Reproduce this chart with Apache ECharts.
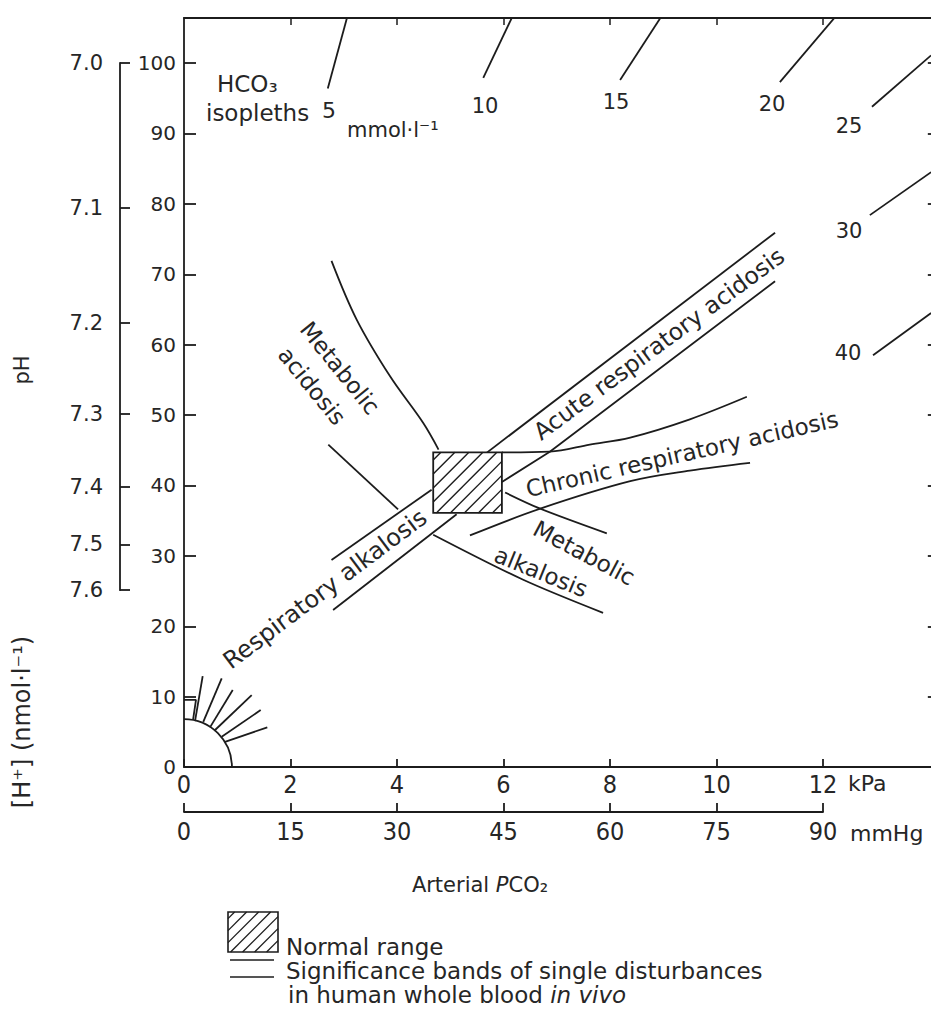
<!DOCTYPE html>
<html>
<head>
<meta charset="utf-8">
<title>Acid-base diagram</title>
<script src="https://cdn.jsdelivr.net/npm/echarts@6/dist/echarts.min.js"></script>
<style>
html,body{margin:0;padding:0;background:#ffffff;}
#chart{width:931px;height:1021px;}
</style>
</head>
<body>
<div id="chart"></div>
<script>
// ================= DATA =================
// axis tick values
const kPaTicks    = [0, 2, 4, 6, 8, 10, 12];
const kPaTopTicks = [2, 4, 6, 8, 10, 12];
const mmHgTicks   = [0, 15, 30, 45, 60, 75, 90];
const hTicks      = [0, 10, 20, 30, 40, 50, 60, 70, 80, 90, 100];
const hRightTicks = [10, 20, 30, 40, 50, 60, 70, 80, 90, 100];
const phTicks     = [7.0, 7.1, 7.2, 7.3, 7.4, 7.5, 7.6];

// HCO3 isopleth segments, [PCO2 kPa, H+ nmol/l]
const hco3Labels = ['5', '10', '15', '20', '25', '30', '40'];
const iso5  = [[2.70, 96.4], [3.06, 106.4]];
const iso10 = [[5.62, 97.9], [6.18, 106.8]];
const iso15 = [[8.19, 97.6], [8.98, 106.8]];
const iso20 = [[11.19, 97.3], [12.28, 107.0]];
const iso25 = [[12.92, 93.8], [14.03, 101.1]];
const iso30 = [[12.88, 78.4], [14.03, 84.5]];
const iso40 = [[12.94, 58.5], [14.03, 64.5]];

// significance band boundaries
const metAcidUpper  = [[2.77, 71.9], [3.24, 63.6], [3.87, 55.5], [4.49, 48.9], [4.78, 45.1]];
const metAlkUpper   = [[6.03, 39.0], [6.69, 36.7], [7.94, 33.2]];
const metAcidLower  = [[2.71, 45.8], [4.02, 36.6]];
const metAlkLower   = [[4.68, 33.0], [6.37, 26.6], [7.87, 21.9]];
const acuteUpper    = [[5.59, 44.1], [11.10, 75.9]];
const acuteLower    = [[5.97, 40.5], [6.87, 44.8], [11.10, 69.0]];
const chronicUpper  = [[5.97, 44.7], [6.87, 44.8], [7.62, 45.8], [8.38, 46.8], [9.50, 49.4], [10.57, 52.6]];
const chronicLower  = [[5.37, 32.9], [6.69, 36.7], [8.38, 40.6], [9.50, 42.1], [10.63, 43.2]];
const respAlkUpper  = [[4.65, 39.4], [2.77, 29.4]];
const respAlkLower  = [[5.12, 35.9], [2.80, 22.3]];

// normal range box [P0, H0, P1, H1]
const normalRange = [4.68, 36.1, 5.97, 44.7];

// small figure at the origin
const originArcRadius = [0, 0, 0.9];              // centre P, centre H, radius (kPa)
const originBox = [[0, 9.53], [0.225, 9.53], [0.17, 6.69]];
const fan1 = [[0.207, 6.53], [0.351, 12.93]];
const fan2 = [[0.362, 6.43], [0.708, 12.60]];
const fan3 = [[0.488, 5.64], [0.915, 10.94]];
const fan4 = [[0.569, 5.16], [1.271, 10.23]];
const fan5 = [[0.708, 4.30], [1.440, 8.10]];
const fan6 = [[0.770, 3.59], [1.564, 5.64]];

// ================= STYLE / LAYOUT =================
const INK = '#1c1c1c';
const TEXT_INK = '#262626';
const LW = 1.8;
const FONT = "'DejaVu Sans', 'Liberation Sans', sans-serif";
const NUMFONT = "'Liberation Sans Narrow', 'DejaVu Sans Condensed', 'Liberation Sans', sans-serif";
const X_MAX = 14.1, Y_MAX = 106.4;
const PX_PER_KPA = 53.25, PX_PER_H = 7.04;

function phToH(ph) { return Math.pow(10, 9 - ph); }
const phTickH = phTicks.map(phToH);

function lineSeries(name, data, smooth) {
  return {
    name: name, type: 'line', xAxisIndex: 0, yAxisIndex: 0, data: data,
    symbol: 'none', showSymbol: false, smooth: smooth || false,
    lineStyle: { color: INK, width: LW }, silent: true, z: 3, clip: true
  };
}

function hatchLines(children, L, T, R, B, step, lw) {
  for (let k = L + T + step * 0.55; k < R + B; k += step) {
    const xa = Math.max(L, k - B), xb = Math.min(R, k - T);
    if (xb - xa < 1) continue;
    children.push({ type: 'line', shape: { x1: xa, y1: k - xa, x2: xb, y2: k - xb },
      style: { stroke: INK, lineWidth: lw } });
  }
}

const series = [
  lineSeries('Metabolic acidosis upper', metAcidUpper, 0.35),
  lineSeries('Metabolic alkalosis upper', metAlkUpper, 0.3),
  lineSeries('Metabolic acidosis lower', metAcidLower),
  lineSeries('Metabolic alkalosis lower', metAlkLower, 0.3),
  lineSeries('Acute upper', acuteUpper),
  lineSeries('Acute lower', acuteLower),
  lineSeries('Chronic upper', chronicUpper, 0.35),
  lineSeries('Chronic lower', chronicLower, 0.35),
  lineSeries('Resp alkalosis upper', respAlkUpper),
  lineSeries('Resp alkalosis lower', respAlkLower),
  lineSeries('HCO3 ' + hco3Labels[0], iso5),
  lineSeries('HCO3 ' + hco3Labels[1], iso10),
  lineSeries('HCO3 ' + hco3Labels[2], iso15),
  lineSeries('HCO3 ' + hco3Labels[3], iso20),
  lineSeries('HCO3 ' + hco3Labels[4], iso25),
  lineSeries('HCO3 ' + hco3Labels[5], iso30),
  lineSeries('HCO3 ' + hco3Labels[6], iso40),
  lineSeries('origin box', originBox),
  lineSeries('fan1', fan1), lineSeries('fan2', fan2), lineSeries('fan3', fan3),
  lineSeries('fan4', fan4), lineSeries('fan5', fan5), lineSeries('fan6', fan6),
  {
    name: 'origin arc', type: 'custom', xAxisIndex: 0, yAxisIndex: 0, silent: true,
    data: [originArcRadius],
    renderItem: function (params, api) {
      const c = api.coord([api.value(0), api.value(1)]);
      const e = api.coord([api.value(0) + api.value(2), api.value(1)]);
      const r = e[0] - c[0];
      return { type: 'arc', shape: { cx: c[0], cy: c[1], r: r, startAngle: -Math.PI / 2, endAngle: 0, clockwise: true },
        style: { stroke: INK, fill: null, lineWidth: LW } };
    }
  },
  {
    name: 'Normal range', type: 'custom', xAxisIndex: 0, yAxisIndex: 0, silent: true, z: 4,
    data: [normalRange],
    renderItem: function (params, api) {
      const a = api.coord([api.value(0), api.value(3)]);
      const b = api.coord([api.value(2), api.value(1)]);
      const L = a[0], T = a[1], R = b[0], B = b[1];
      const children = [{ type: 'rect', shape: { x: L, y: T, width: R - L, height: B - T },
        style: { fill: '#ffffff', stroke: INK, lineWidth: LW } }];
      hatchLines(children, L, T, R, B, 14, 1.4);
      return { type: 'group', children: children };
    }
  }
];

function txt(text, x, y, o) {
  o = o || {};
  return {
    type: 'text', x: x, y: y, rotation: (o.rot || 0) * Math.PI / 180, silent: true, z: 10,
    style: {
      text: text, fill: TEXT_INK, fontFamily: o.family || FONT, fontSize: o.size || 23,
      align: o.align || 'center', verticalAlign: 'middle', rich: o.rich
    }
  };
}

// legend hatched box
const legendBox = { L: 228, T: 912, R: 278, B: 952 };
const legendChildren = [{ type: 'rect', shape: { x: legendBox.L, y: legendBox.T, width: legendBox.R - legendBox.L, height: legendBox.B - legendBox.T },
  style: { fill: '#fff', stroke: INK, lineWidth: 1.6 } }];
hatchLines(legendChildren, legendBox.L, legendBox.T, legendBox.R, legendBox.B, 12, 1.3);

const graphics = [
  txt('pH', 22, 370, { rot: 90, size: 21 }),
  txt('[H⁺] (nmol·l⁻¹)', 22, 722, { rot: 90, size: 24 }),
  txt('HCO₃', 217, 84, { align: 'left', size: 23 }),
  txt('isopleths', 206, 113, { align: 'left', size: 23 }),
  txt(hco3Labels[0], 329, 110, { size: 22 }),
  txt('mmol·l⁻¹', 347, 130, { align: 'left', size: 21 }),
  txt(hco3Labels[1], 485, 106, { size: 21 }),
  txt(hco3Labels[2], 616, 102, { size: 21 }),
  txt(hco3Labels[3], 772, 104, { size: 21 }),
  txt(hco3Labels[4], 849, 126, { size: 21 }),
  txt(hco3Labels[5], 849, 231, { size: 21 }),
  txt(hco3Labels[6], 848, 353, { size: 21 }),
  txt('Metabolic', 340, 368, { rot: -51, size: 23 }),
  txt('acidosis', 312, 386, { rot: -51, size: 23 }),
  txt('Acute respiratory acidosis', 659, 344, { rot: 36.5, size: 23.5 }),
  txt('Chronic respiratory acidosis', 682, 454, { rot: 12.8, size: 23 }),
  txt('Metabolic', 584, 553, { rot: -28, size: 23 }),
  txt('alkalosis', 541, 572, { rot: -22, size: 23 }),
  txt('Respiratory alkalosis', 325, 589, { rot: 37, size: 24 }),
  txt('kPa', 848, 783, { align: 'left', size: 22 }),
  txt('mmHg', 850, 833, { align: 'left', size: 22 }),
  txt('{a|Arterial }{b|P}{a|CO₂}', 480, 885, { size: 21, rich: {
    a: { fontFamily: FONT, fontSize: 21, fill: TEXT_INK },
    b: { fontFamily: FONT, fontSize: 21, fontStyle: 'italic', fill: TEXT_INK } } }),
  { type: 'group', silent: true, children: legendChildren },
  { type: 'line', silent: true, shape: { x1: 230, y1: 960, x2: 274, y2: 960 }, style: { stroke: INK, lineWidth: 1.6 } },
  { type: 'line', silent: true, shape: { x1: 230, y1: 977, x2: 274, y2: 977 }, style: { stroke: INK, lineWidth: 1.6 } },
  txt('Normal range', 286, 947, { align: 'left', size: 23 }),
  txt('Significance bands of single disturbances', 286, 971, { align: 'left', size: 23 }),
  txt('{a|in human whole blood }{b|in vivo}', 288, 995, { align: 'left', size: 23, rich: {
    a: { fontFamily: FONT, fontSize: 23, fill: TEXT_INK },
    b: { fontFamily: FONT, fontSize: 23, fontStyle: 'italic', fill: TEXT_INK } } })
];

const axisLine = { show: true, onZero: false, lineStyle: { color: INK, width: LW } };

const option = {
  backgroundColor: '#ffffff',
  animation: false,
  grid: [
    { left: 184, top: 18, width: X_MAX * PX_PER_KPA, height: Y_MAX * PX_PER_H, containLabel: false, outerBoundsMode: 'none' },
    { left: 184, top: 802, width: 12 * PX_PER_KPA, height: 10, containLabel: false, outerBoundsMode: 'none' },
    { left: 120, top: 767 - 100 * PX_PER_H, width: 10, height: (100 - phTickH[6]) * PX_PER_H, containLabel: false, outerBoundsMode: 'none' }
  ],
  xAxis: [
    { gridIndex: 0, type: 'value', position: 'bottom', min: 0, max: X_MAX, interval: 2,
      axisLine: axisLine,
      axisTick: { show: true, inside: true, length: 8, customValues: kPaTicks, lineStyle: { color: INK, width: LW } },
      axisLabel: { show: true, customValues: kPaTicks, margin: 5, color: TEXT_INK, fontFamily: NUMFONT, fontSize: 25 },
      splitLine: { show: false } },
    { gridIndex: 0, type: 'value', position: 'top', min: 0, max: X_MAX, interval: 2,
      axisLine: axisLine,
      axisTick: { show: true, inside: true, length: 7, customValues: kPaTopTicks, lineStyle: { color: INK, width: 1.5 } },
      axisLabel: { show: false }, splitLine: { show: false } },
    { gridIndex: 1, type: 'value', position: 'bottom', min: 0, max: 90, interval: 15,
      axisLine: axisLine,
      axisTick: { show: true, inside: true, length: 9, customValues: mmHgTicks, lineStyle: { color: INK, width: LW } },
      axisLabel: { show: true, customValues: mmHgTicks, margin: 7, color: TEXT_INK, fontFamily: NUMFONT, fontSize: 25 },
      splitLine: { show: false } },
    { gridIndex: 2, type: 'value', show: false, min: 0, max: 1 }
  ],
  yAxis: [
    { gridIndex: 0, type: 'value', position: 'left', min: 0, max: Y_MAX, interval: 10,
      axisLine: axisLine,
      axisTick: { show: true, inside: true, length: 12, customValues: hTicks, lineStyle: { color: INK, width: LW } },
      axisLabel: { show: true, customValues: hTicks, margin: 8, color: TEXT_INK, fontFamily: FONT, fontSize: 20 },
      splitLine: { show: false } },
    { gridIndex: 0, type: 'value', position: 'right', min: 0, max: Y_MAX, interval: 10,
      axisLine: axisLine,
      axisTick: { show: true, inside: true, length: 7, customValues: hRightTicks, lineStyle: { color: INK, width: LW } },
      axisLabel: { show: false }, splitLine: { show: false } },
    { gridIndex: 1, type: 'value', show: false, min: 0, max: 1 },
    { gridIndex: 2, type: 'value', position: 'left', min: phTickH[6], max: phTickH[0],
      axisLine: axisLine,
      axisTick: { show: true, inside: true, length: 10, customValues: phTickH, lineStyle: { color: INK, width: LW } },
      axisLabel: { show: true, customValues: phTickH, margin: 17, color: TEXT_INK, fontFamily: FONT, fontSize: 21,
        formatter: function (v) { return (9 - Math.log10(v)).toFixed(1); } },
      splitLine: { show: false } }
  ],
  series: series,
  graphic: graphics
};

const chart = echarts.init(document.getElementById('chart'), null, { renderer: 'svg', width: 931, height: 1021 });
chart.setOption(option);
</script>
</body>
</html>
